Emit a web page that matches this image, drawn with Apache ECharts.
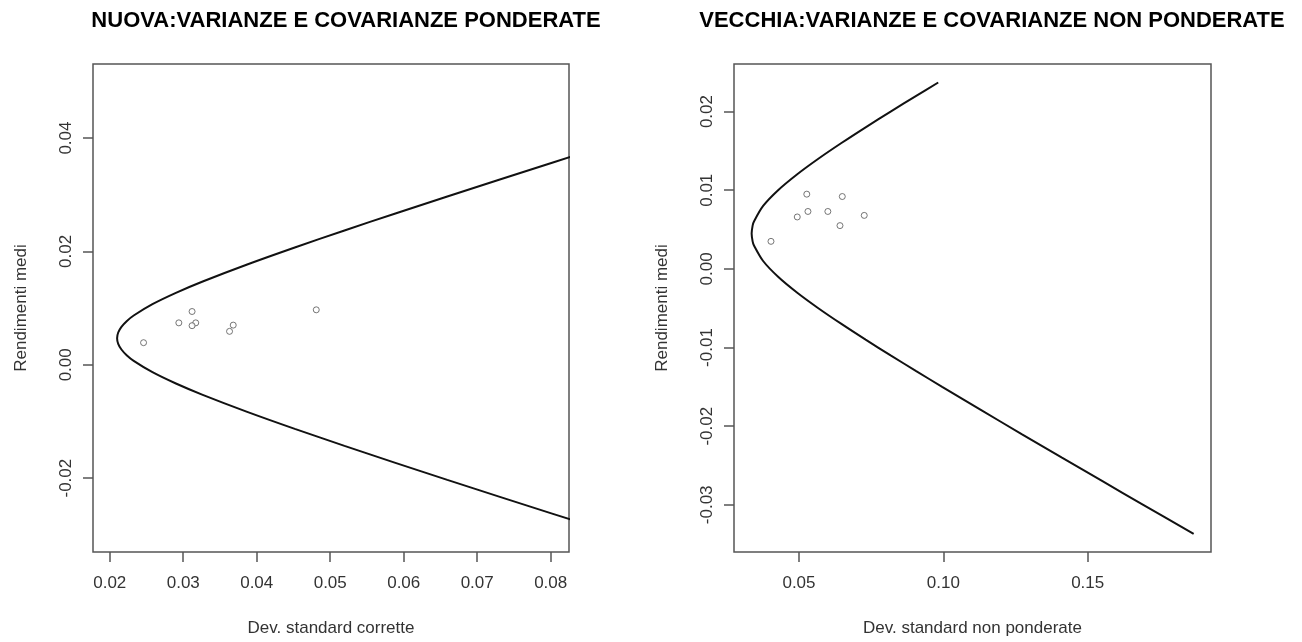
<!DOCTYPE html>
<html>
<head>
<meta charset="utf-8">
<script src="https://cdn.jsdelivr.net/npm/echarts@6/dist/echarts.min.js"></script>
<style>
  html, body { margin: 0; padding: 0; background: #fff; }
  #chart { width: 1302px; height: 642px; }
</style>
</head>
<body>
<div id="chart"></div>
<script>
// Titles and axis texts
const titles = ['NUOVA:VARIANZE E COVARIANZE PONDERATE', 'VECCHIA:VARIANZE E COVARIANZE NON PONDERATE'];
const xNames = ['Dev. standard corrette', 'Dev. standard non ponderate'];
const yName = 'Rendimenti medi';

// Tick values
const xTicksNuova = [0.02, 0.03, 0.04, 0.05, 0.06, 0.07, 0.08];
const yTicksNuova = [-0.02, 0.00, 0.02, 0.04];
const xTicksVecchia = [0.05, 0.10, 0.15];
const yTicksVecchia = [-0.03, -0.02, -0.01, 0.00, 0.01, 0.02];

// Efficient frontier, weighted variances: [std dev, mean return]
const frontierNuova = [
  [0.08756, 0.0387], [0.0803, 0.0357], [0.07308, 0.0327], [0.06593, 0.0297],
  [0.05887, 0.0267], [0.05194, 0.0237], [0.04518, 0.0207], [0.0387, 0.0177],
  [0.03265, 0.0147], [0.029, 0.0127], [0.02581, 0.0107], [0.02326, 0.0087],
  [0.0223, 0.0077], [0.02159, 0.0067], [0.02115, 0.0057], [0.0210, 0.0047],
  [0.02115, 0.0037], [0.02159, 0.0027], [0.0223, 0.0017], [0.02326, 0.0007],
  [0.02581, -0.0013], [0.029, -0.0033], [0.03265, -0.0053], [0.0387, -0.0083],
  [0.04518, -0.0113], [0.05194, -0.0143], [0.05887, -0.0173], [0.06593, -0.0203],
  [0.07308, -0.0233], [0.0803, -0.0263], [0.08756, -0.0293]
];
// Single assets, weighted
const assetsNuova = [
  [0.0246, 0.0039], [0.0294, 0.0074], [0.0312, 0.0094], [0.0317, 0.0074],
  [0.0312, 0.0069], [0.0368, 0.0070], [0.0363, 0.0059], [0.0481, 0.0097]
];

// Efficient frontier, unweighted variances
const frontierVecchia = [
  [0.09823, 0.0237], [0.09060, 0.022], [0.08174, 0.020], [0.07308, 0.018],
  [0.06470, 0.016], [0.05670, 0.014], [0.04929, 0.012], [0.04276, 0.010],
  [0.03758, 0.008], [0.03437, 0.006], [0.03394, 0.0055], [0.0336, 0.0045],
  [0.03394, 0.0035], [0.03437, 0.003], [0.03758, 0.001], [0.04276, -0.001],
  [0.04929, -0.003], [0.05670, -0.005], [0.06470, -0.007], [0.07308, -0.009],
  [0.08174, -0.011], [0.09060, -0.013], [0.09959, -0.015], [0.11327, -0.018],
  [0.12712, -0.021], [0.14108, -0.024], [0.15512, -0.027], [0.16924, -0.030],
  [0.18670, -0.0337]
];
// Single assets, unweighted
const assetsVecchia = [
  [0.0403, 0.0035], [0.0494, 0.0066], [0.0527, 0.0095], [0.0531, 0.0073],
  [0.0600, 0.0073], [0.0642, 0.0055], [0.0650, 0.0092], [0.0726, 0.0068]
];

// Plot ranges
const xRange = [[0.01772, 0.08249], [0.02749, 0.19271]];
const yRange = [[-0.03303, 0.05307], [-0.0360, 0.02605]];

const FONT = '"Liberation Sans", Arial, sans-serif';
const TEXT = '#333';
const BOX = '#555';

const grids = [
  { left: 93, right: 733, top: 64, bottom: 89 },
  { left: 734, right: 91, top: 64, bottom: 89 }
];

function xAxis(i, ticks) {
  return {
    type: 'value', gridIndex: i, min: xRange[i][0], max: xRange[i][1],
    name: xNames[i], nameLocation: 'middle', nameGap: 68,
    nameTextStyle: { fontFamily: FONT, fontSize: 17, color: TEXT },
    axisLine: { show: false, onZero: false },
    splitLine: { show: false },
    axisTick: { show: true, length: 10, inside: false, customValues: ticks,
                lineStyle: { color: BOX, width: 1.5 } },
    axisLabel: { customValues: ticks, margin: 23, fontFamily: FONT, fontSize: 17, color: TEXT,
                 formatter: v => v.toFixed(2) }
  };
}
function yAxis(i, ticks) {
  return {
    type: 'value', gridIndex: i, min: yRange[i][0], max: yRange[i][1],
    name: yName, nameLocation: 'middle', nameGap: 63, nameRotate: 90,
    nameTextStyle: { fontFamily: FONT, fontSize: 17, color: TEXT },
    axisLine: { show: false, onZero: false },
    splitLine: { show: false },
    axisTick: { show: true, length: 10, inside: false, customValues: ticks,
                lineStyle: { color: BOX, width: 1.5 } },
    axisLabel: { customValues: ticks, margin: 18, rotate: 90, fontFamily: FONT, fontSize: 17, color: TEXT,
                 formatter: v => v.toFixed(2) }
  };
}

function assetSeries(i, data) {
  return {
    type: 'scatter', xAxisIndex: i, yAxisIndex: i, data: data, symbol: 'circle', symbolSize: 6,
    itemStyle: { color: '#fff', borderColor: '#555', borderWidth: 1 }
  };
}
function frontierSeries(i, data) {
  return {
    type: 'line', xAxisIndex: i, yAxisIndex: i, data: data, smooth: 0.3, clip: true,
    showSymbol: false, lineStyle: { color: '#111', width: 2 }
  };
}

const chart = echarts.init(document.getElementById('chart'), null, { renderer: 'canvas' });
chart.setOption({
  backgroundColor: '#fff',
  animation: false,
  graphic: [
    { type: 'text', x: 346, y: 21, style: { text: titles[0], font: 'bold 22px ' + FONT, fill: '#000', align: 'center', verticalAlign: 'middle' } },
    { type: 'text', x: 992, y: 21, style: { text: titles[1], font: 'bold 22px ' + FONT, fill: '#000', align: 'center', verticalAlign: 'middle' } }
  ],
  grid: grids.map(g => Object.assign({ show: true, borderColor: BOX, borderWidth: 1.5, backgroundColor: 'transparent' }, g)),
  xAxis: [xAxis(0, xTicksNuova), xAxis(1, xTicksVecchia)],
  yAxis: [yAxis(0, yTicksNuova), yAxis(1, yTicksVecchia)],
  series: [
    frontierSeries(0, frontierNuova),
    assetSeries(0, assetsNuova),
    frontierSeries(1, frontierVecchia),
    assetSeries(1, assetsVecchia)
  ]
});
</script>
</body>
</html>
